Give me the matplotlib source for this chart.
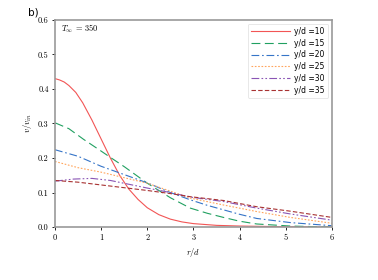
import numpy as np
import matplotlib
matplotlib.use('Agg')
import matplotlib.pyplot as plt

plt.rcParams['mathtext.fontset'] = 'cm'
plt.rcParams['axes.formatter.use_mathtext'] = True

# radial profiles
r10 = [0, 0.1, 0.2, 0.3, 0.45, 0.6, 0.8, 1.0, 1.2, 1.4, 1.6, 1.8, 2.0, 2.25, 2.5, 2.75, 3.0, 3.5, 4.0, 5.0, 6.0]
v10 = [0.43, 0.426, 0.42, 0.41, 0.39, 0.36, 0.31, 0.255, 0.2, 0.15, 0.11, 0.08, 0.056, 0.036, 0.023, 0.015, 0.01,
       0.005, 0.003, 0.001, 0.0]

r15 = [0, 0.3, 0.62, 1.0, 1.22, 1.5, 2.0, 2.5, 2.93, 3.3, 3.65, 4.0, 4.37, 5.1, 6.0]
v15 = [0.302, 0.285, 0.254, 0.22, 0.2, 0.175, 0.127, 0.085, 0.055, 0.04, 0.028, 0.017, 0.009, 0.003, 0.0]

r20 = [0, 0.5, 1.0, 1.5, 2.0, 2.5, 2.93, 3.3, 3.65, 4.0, 4.37, 5.1, 6.0]
v20 = [0.224, 0.205, 0.176, 0.152, 0.128, 0.1, 0.079, 0.063, 0.05, 0.037, 0.025, 0.013, 0.004]

r25 = [0, 0.5, 1.0, 1.5, 2.0, 2.5, 2.93, 3.65, 4.37, 5.1, 6.0]
v25 = [0.19, 0.172, 0.159, 0.143, 0.127, 0.104, 0.084, 0.064, 0.045, 0.028, 0.011]

r30 = [0, 0.4, 0.8, 1.2, 1.6, 2.0, 2.5, 2.93, 3.65, 4.37, 5.1, 6.0]
v30 = [0.133, 0.139, 0.141, 0.135, 0.124, 0.113, 0.1, 0.087, 0.074, 0.055, 0.038, 0.02]

r35 = [0, 0.5, 1.0, 1.5, 2.0, 2.5, 2.93, 3.65, 4.37, 5.1, 6.0]
v35 = [0.135, 0.13, 0.122, 0.114, 0.106, 0.097, 0.088, 0.077, 0.059, 0.046, 0.028]

profiles = [(r10, v10, 10, '#f25555', '-'),
            (r15, v15, 15, '#20a060', (0, (8, 4))),
            (r20, v20, 20, '#3574c8', (0, (7, 2.5, 1.5, 2.5))),
            (r25, v25, 25, '#ffa55c', (0, (1.5, 1.5))),
            (r30, v30, 30, '#8a55b5', (0, (7, 2, 1.5, 2, 1.5, 2))),
            (r35, v35, 35, '#a83232', (0, (4, 2)))]

fig = plt.figure(figsize=(3.78, 2.80), dpi=100)
ax = fig.add_axes([0.1455, 0.189, 0.7325, 0.74])

for r, v, yd, c, ls in profiles:
    ax.plot(r, v, color=c, linestyle=ls, linewidth=0.8, label='y/d =%d' % yd)

ax.set_xlim(0, 6)
ax.set_ylim(0, 0.6)
ax.set_xticks(range(0, 7))
ax.set_yticks(np.arange(0, 0.61, 0.1))
ax.set_xticklabels([str(i) for i in range(7)], family='cmr10', fontsize=6)
ax.set_yticklabels(['%.1f' % t for t in np.arange(0, 0.61, 0.1)], family='cmr10', fontsize=6)
ax.tick_params(length=2.5, width=0.6, pad=2)
for s in ax.spines.values():
    s.set_color('#999999')
    s.set_linewidth(1.2)

ax.set_xlabel('$r/d$', fontsize=6, labelpad=3)
ax.set_ylabel('$v/v_{in}$', fontsize=6, labelpad=3)
ax.text(0.02, 0.985, r'$T_{\infty}$ = 350', transform=ax.transAxes, fontsize=6,
        va='top', ha='left', family='cmr10')

leg = ax.legend(loc='upper right', fontsize=5.5, handlelength=5, frameon=True,
                borderpad=0.45, labelspacing=0.35, handletextpad=0.6)
leg.get_frame().set_edgecolor('#dddddd')
leg.get_frame().set_linewidth(0.6)

fig.text(0.074, 0.957, 'b)', fontsize=7.5, ha='left', va='center')

plt.savefig('out.png', dpi=100)
